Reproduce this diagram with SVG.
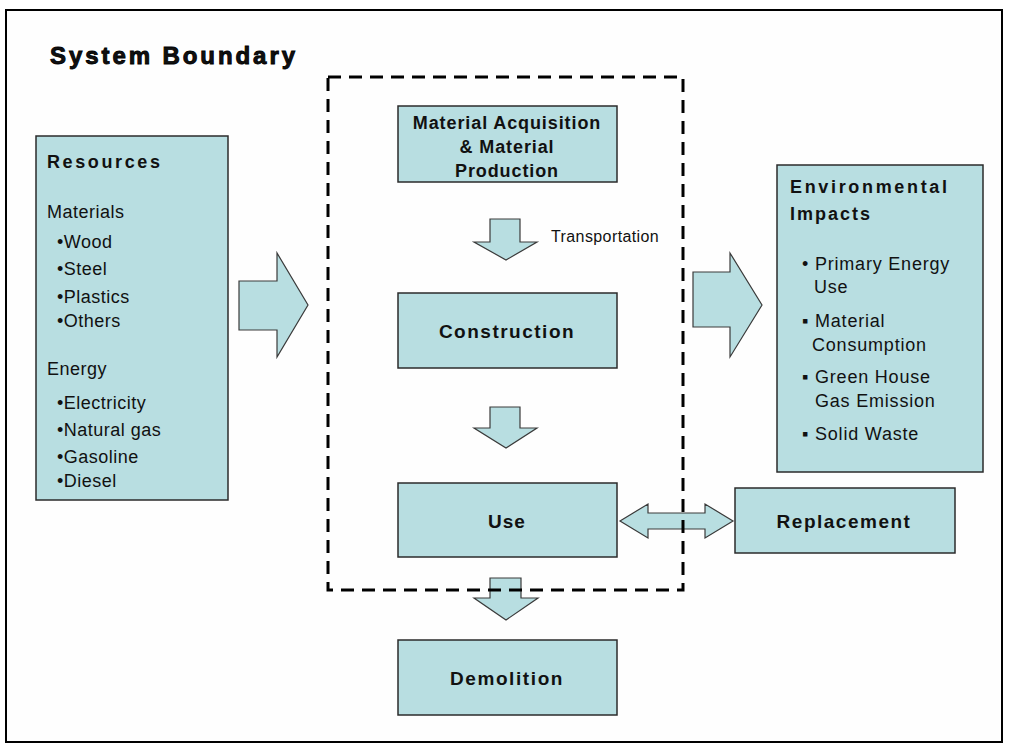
<svg xmlns="http://www.w3.org/2000/svg" width="1016" height="751" viewBox="0 0 1016 751">
<style>
.box{fill:#B8DEE1;stroke:#2b2b2b;stroke-width:1.5}
.arr{fill:#B8DEE1;stroke:#3a3a3a;stroke-width:1.2;stroke-linejoin:miter}
.b{font-family:"Liberation Sans",Arial,sans-serif;font-weight:bold;fill:#111}
.n{font-family:"Liberation Sans",Arial,sans-serif;fill:#111;font-size:18px;letter-spacing:0.5px}
.e{font-family:"Liberation Sans",Arial,sans-serif;fill:#111;font-size:18px;letter-spacing:0.8px}
.c{text-anchor:middle}
</style>
<rect x="0" y="0" width="1016" height="751" fill="#fff"/>
<rect x="6" y="10" width="996" height="732" fill="#fefefe" stroke="#000" stroke-width="2"/>
<text class="b" x="50" y="64" font-size="24" stroke="#000" stroke-width="0.9" textLength="245" lengthAdjust="spacing">System Boundary</text>

<g id="connectors">
<path class="arr" d="M239,281 H277 V253 L308,305 L277,357 V330 H239 Z"/>
<path class="arr" d="M693,272 H730 V253 L762,305 L730,357 V327 H693 Z"/>
<path class="arr" d="M490,219 H520 V242 H537 L506,260 L474,242 H490 Z"/>
<path class="arr" d="M490,407 H520 V428 H537 L506,448 L474,428 H490 Z"/>
<path class="arr" d="M490,578 H521 V598 H538 L506,620 L474,598 H490 Z"/>
<path class="arr" d="M620,521 L648,504 V513 H705 V504 L733,521 L705,538 V529 H648 V538 Z"/>
</g>

<g id="boundary">
<rect x="328" y="77" width="355" height="513" fill="none" stroke="#000" stroke-width="3" stroke-dasharray="13 8"/>
</g>

<g id="resources">
<rect class="box" x="36" y="136" width="192" height="364"/>
<text class="b" x="47" y="168" font-size="18" textLength="113" lengthAdjust="spacing">Resources</text>
<text class="n" x="47" y="218">Materials</text>
<text class="n" x="57" y="248">•Wood</text>
<text class="n" x="57" y="275">•Steel</text>
<text class="n" x="57" y="303">•Plastics</text>
<text class="n" x="57" y="327">•Others</text>
<text class="n" x="47" y="375">Energy</text>
<text class="n" x="57" y="409">•Electricity</text>
<text class="n" x="57" y="436">•Natural gas</text>
<text class="n" x="57" y="463">•Gasoline</text>
<text class="n" x="57" y="487">•Diesel</text>
</g>

<g id="material">
<rect class="box" x="398" y="106" width="219" height="76"/>
<text class="b c" x="507" y="129" font-size="18" letter-spacing="0.9">Material Acquisition</text>
<text class="b c" x="507" y="153" font-size="18" letter-spacing="0.9">&amp; Material</text>
<text class="b c" x="507" y="177" font-size="18" letter-spacing="0.9">Production</text>
</g>
<text class="n" x="551" y="242" style="font-size:16px;letter-spacing:0.4px">Transportation</text>

<g id="construction">
<rect class="box" x="398" y="293" width="219" height="75"/>
<text class="b c" x="507" y="338" font-size="19" letter-spacing="1.5">Construction</text>
</g>

<g id="use">
<rect class="box" x="398" y="483" width="219" height="74"/>
<text class="b c" x="507" y="528" font-size="19" letter-spacing="1">Use</text>
</g>

<g id="demolition">
<rect class="box" x="398" y="640" width="219" height="75"/>
<text class="b c" x="507" y="685" font-size="19" letter-spacing="1.6">Demolition</text>
</g>

<g id="replacement">
<rect class="box" x="735" y="488" width="220" height="65"/>
<text class="b c" x="844" y="528" font-size="19" letter-spacing="1.5">Replacement</text>
</g>

<g id="impacts">
<rect class="box" x="777" y="165" width="206" height="307"/>
<text class="b" x="790" y="193" font-size="18" textLength="157" lengthAdjust="spacing">Environmental</text>
<text class="b" x="790" y="220" font-size="18" letter-spacing="2">Impacts</text>
<text class="e" x="802" y="270">• Primary Energy</text>
<text class="e" x="814" y="293">Use</text>
<text class="e" x="802" y="327">▪ Material</text>
<text class="e" x="812" y="351">Consumption</text>
<text class="e" x="802" y="383">▪ Green House</text>
<text class="e" x="815" y="407">Gas Emission</text>
<text class="e" x="802" y="440">▪ Solid Waste</text>
</g>
</svg>
